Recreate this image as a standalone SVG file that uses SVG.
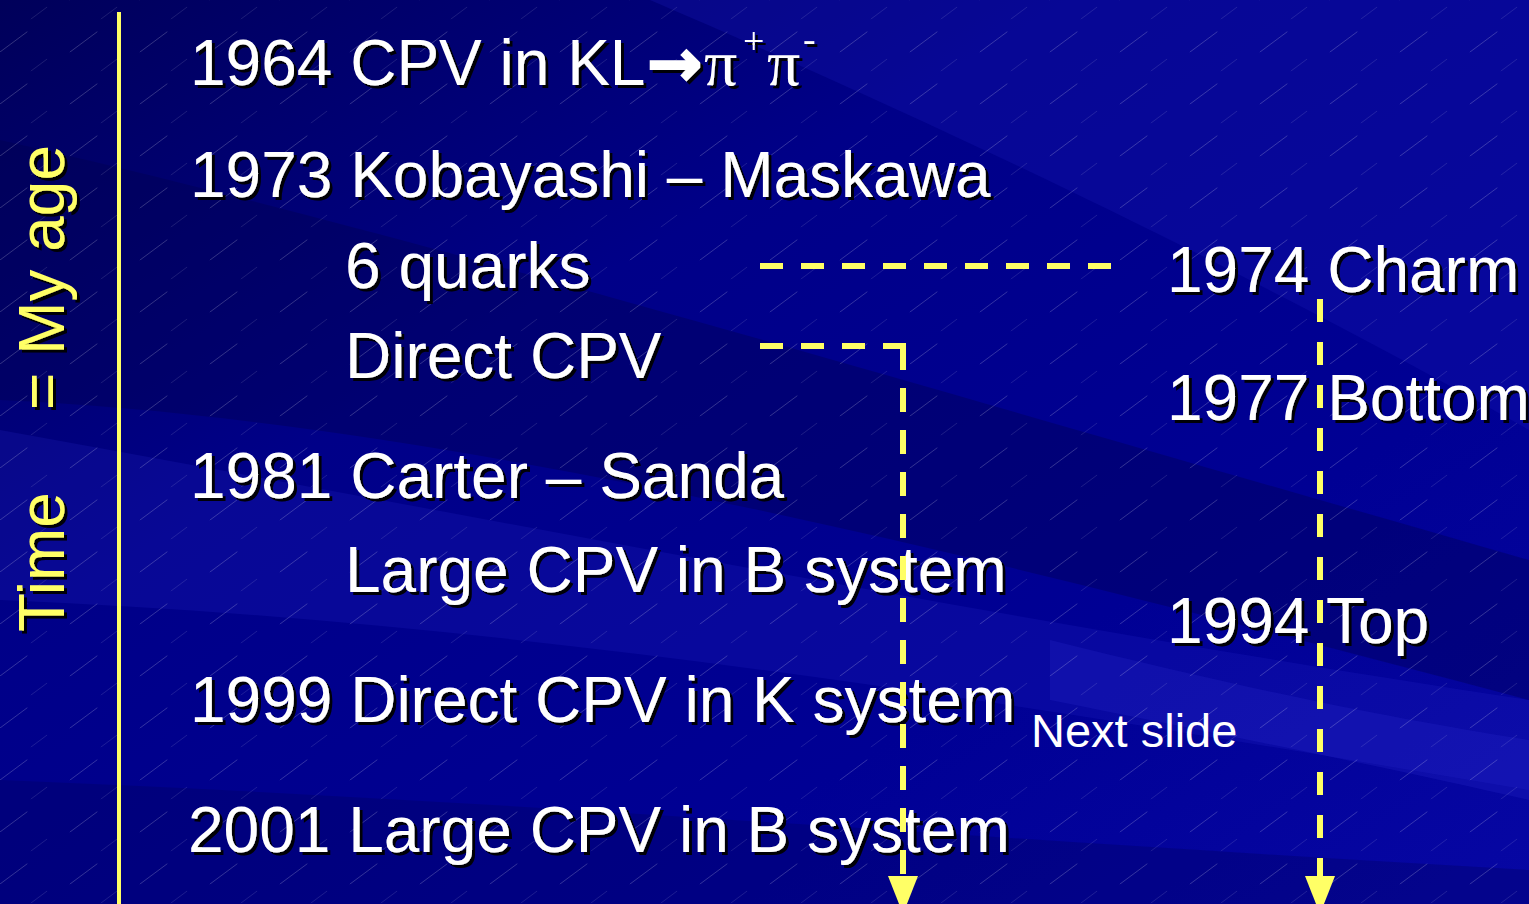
<svg xmlns="http://www.w3.org/2000/svg" width="1529" height="904" viewBox="0 0 1529 904">
<defs>
<linearGradient id="bg" x1="0" y1="0" x2="1" y2="1">
<stop offset="0" stop-color="#00005a"/>
<stop offset="0.35" stop-color="#000088"/>
<stop offset="0.7" stop-color="#000094"/>
<stop offset="1" stop-color="#0707a4"/>
</linearGradient>
<pattern id="hatch" width="70" height="52" patternUnits="userSpaceOnUse">
<line x1="0" y1="52" x2="70" y2="0" stroke="#ffffff" stroke-opacity="0.22" stroke-width="0.9" stroke-dasharray="34 53"/>
</pattern>
<pattern id="hatch2" width="70" height="52" patternUnits="userSpaceOnUse" patternTransform="translate(31 19)">
<line x1="0" y1="52" x2="70" y2="0" stroke="#ffffff" stroke-opacity="0.14" stroke-width="0.8" stroke-dasharray="20 67"/>
</pattern>
<filter id="sh" x="-5%" y="-20%" width="110%" height="140%">
<feDropShadow dx="3" dy="3" stdDeviation="0.4" flood-color="#000000" flood-opacity="0.95"/>
</filter>
<style>
.w{font-family:"Liberation Sans",Arial,sans-serif;font-size:64px;fill:#ffffff}
.y{font-family:"Liberation Sans",Arial,sans-serif;font-size:64px;fill:#ffff66}
.s{font-family:"Liberation Serif","Times New Roman",serif;fill:#ffffff}
.dash{fill:none;stroke:#ffff66;stroke-width:6;stroke-dasharray:23 18}
.head{fill:#ffff66}
</style>
</defs>
<g id="background">
<rect width="1529" height="904" fill="url(#bg)"/>
<path d="M650,0 L1529,0 L1529,430 C1300,300 1000,150 650,0 Z" fill="#1818b4" opacity="0.3"/>
<path d="M0,140 C400,230 900,380 1529,560 L1529,700 C1000,560 450,420 0,400 Z" fill="#00004a" opacity="0.35"/>
<path d="M0,430 C500,520 1000,620 1529,700 L1529,790 C1000,700 500,620 0,600 Z" fill="#2a2ad0" opacity="0.18"/>
<path d="M1050,640 C1250,690 1400,720 1529,740 L1529,800 C1400,770 1250,740 1050,700 Z" fill="#3030d8" opacity="0.2"/>
<path d="M0,780 C500,800 1000,840 1529,870 L1529,904 L0,904 Z" fill="#00005a" opacity="0.3"/>
<rect width="1529" height="904" fill="url(#hatch)"/>
<rect width="1529" height="904" fill="url(#hatch2)"/>
</g>
<rect id="timeline" x="117" y="12" width="4" height="892" fill="#ffff66"/>
<g id="axis-label" filter="url(#sh)">
<text class="y" transform="translate(64,632) rotate(-90)">Time</text>
<text class="y" transform="translate(64,410) rotate(-90)">= My age</text>
</g>
<g id="n1964" filter="url(#sh)">
<text class="w" x="190" y="85">1964 CPV in KL</text>
<text x="647" y="86" style="font-family:'DejaVu Sans',sans-serif;font-weight:bold;font-size:66px;fill:#fff;stroke:#fff;stroke-width:2">→</text>
<text class="s" x="704" y="85" font-size="66">π</text>
<text class="s" x="743" y="54" font-size="38">+</text>
<text class="s" x="767" y="85" font-size="66">π</text>
<text class="s" x="803" y="52" font-size="38">-</text>
</g>
<g id="n1973" filter="url(#sh)">
<text class="w" x="190" y="197">1973 Kobayashi – Maskawa</text>
</g>
<g id="n6quarks" filter="url(#sh)">
<text class="w" x="345" y="288">6 quarks</text>
</g>
<g id="nDirect" filter="url(#sh)">
<text class="w" x="345" y="378">Direct CPV</text>
</g>
<g id="n1981" filter="url(#sh)">
<text class="w" x="190" y="498">1981 Carter – Sanda</text>
</g>
<g id="nLarge" filter="url(#sh)">
<text class="w" x="345" y="592">Large CPV in B system</text>
</g>
<g id="n1999" filter="url(#sh)">
<text class="w" x="190" y="722">1999 Direct CPV in K system</text>
</g>
<g id="n2001" filter="url(#sh)">
<text class="w" x="188" y="852">2001 Large CPV in B system</text>
</g>
<g id="n1974" filter="url(#sh)">
<text class="w" x="1167" y="292">1974 Charm</text>
</g>
<g id="n1977" filter="url(#sh)">
<text class="w" x="1167" y="420">1977 Bottom</text>
</g>
<g id="n1994" filter="url(#sh)">
<text class="w" x="1167" y="643">1994 Top</text>
</g>
<g id="nNext">
<text x="1031" y="747" style="font-family:'Liberation Sans',Arial,sans-serif;font-size:47px;fill:#ffffff">Next slide</text>
</g>
<g id="connectors">
<line class="dash" x1="760" y1="266" x2="1115" y2="266"/>
<line class="dash" x1="760" y1="346" x2="906" y2="346"/>
<line class="dash" x1="903" y1="346" x2="903" y2="876" style="stroke-dasharray:24 18"/>
<line class="dash" x1="1320" y1="299" x2="1320" y2="876" style="stroke-dasharray:23 20"/>
<polygon class="head" points="888,876 918,876 903,914"/>
<polygon class="head" points="1305,876 1335,876 1320,914"/>
</g>
</svg>
